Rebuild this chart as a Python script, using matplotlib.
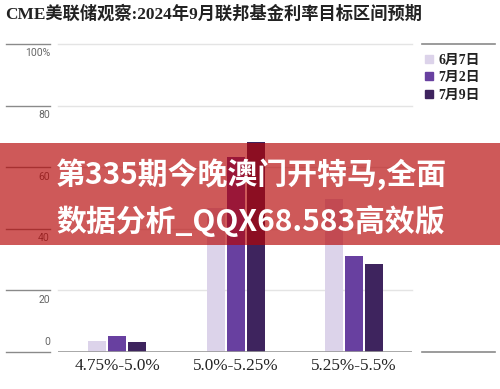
import numpy as np
import matplotlib
matplotlib.use("Agg")
import matplotlib.pyplot as plt
from matplotlib.patches import Rectangle
from matplotlib.lines import Line2D

# data
ranges = ["4.75%-5.0%", "5.0%-5.25%", "5.25%-5.5%"]
dates = ["6月7日", "7月2日", "7月9日"]
jun7 = [3.5, 46.8, 49.7]
jul2 = [5.3, 63.4, 31.3]
jul9 = [3.2, 68.2, 28.6]
yticks = [0, 20, 40, 60, 80, 100]
ylabels = ["0", "20", "40", "60", "80", "100%"]
colors = ["#dcd3ea", "#6840a0", "#3e245e"]

serif_cjk = ["Liberation Serif", "Noto Sans CJK SC"]
W, H = 500, 389

fig = plt.figure(figsize=(5, 3.89), dpi=100)

def fx(px):
    return px / W

def fy(py):
    return 1 - py / H

bottom = fy(352)
height = fy(44) - bottom

# main plot
ax = fig.add_axes([fx(58), bottom, fx(412) - fx(58), height])
x = np.arange(len(ranges))
step, width = 0.169, 0.152
for i, (vals, c) in enumerate(zip([jun7, jul2, jul9], colors)):
    ax.bar(x + (i - 1) * step, vals, width, color=c, zorder=3)
for t in yticks[1:]:
    ax.axhline(t, color="#e4e4e4", lw=1, zorder=1, clip_on=False)
ax.axhline(0, color="#9a9a9a", lw=1.2, zorder=4)
ax.set_xlim(-0.5, 2.49)
ax.set_ylim(0, 100)
ax.set_yticks([])
ax.set_xticks(x)
ax.set_xticklabels(ranges, fontfamily="Liberation Serif", fontsize=12.3, color="#222222")
ax.tick_params(axis="x", length=0, pad=4)
for s in ax.spines.values():
    s.set_visible(False)

# left ruler with tick labels
rul = fig.add_axes([fx(6), bottom, fx(50) - fx(6), height])
rul.set_xlim(0, 1)
rul.set_ylim(0, 100)
for t, lab in zip(yticks, ylabels):
    rul.axhline(t, color="#8a8a8a", lw=1, clip_on=False)
    if t == 0:
        rul.text(1, t + 1.5, lab, ha="right", va="bottom", fontsize=7.5,
                 family="Roboto", color="#666666")
    else:
        rul.text(1, t - 1.4, lab, ha="right", va="top", fontsize=7.5,
                 family="Roboto", color="#666666")
rul.axis("off")

# right legend panel
leg_ax = fig.add_axes([fx(422), bottom, fx(495) - fx(422), height])
leg_ax.set_xlim(0, 1)
leg_ax.set_ylim(0, 100)
leg_ax.axhline(100, color="#8a8a8a", lw=1.2, clip_on=False)
leg_ax.axhline(0, color="#8a8a8a", lw=1.2, clip_on=False)
leg_ax.axis("off")
handles = [Line2D([], [], marker="s", ls="", markersize=5.5, color=c) for c in colors]
leg = leg_ax.legend(handles, dates, loc="upper left", bbox_to_anchor=(-0.04, 0.985),
                    frameon=False, handlelength=0.6, handletextpad=0.4,
                    labelspacing=0.3, borderaxespad=0,
                    prop={"family": serif_cjk, "weight": "bold", "size": 10})
for t in leg.get_texts():
    t.set_color("#222222")

# title
fig.text(fx(5), fy(14), "CME美联储观察:2024年9月联邦基金利率目标区间预期",
         family=serif_cjk, weight="bold", fontsize=12.4, color="#222222",
         ha="left", va="center")

# red overlay banner
fig.add_artist(Rectangle((0, fy(245)), 1, fy(143) - fy(245),
                         transform=fig.transFigure, color=(0.71, 0.01, 0.01),
                         alpha=0.66, lw=0, zorder=10))
fig.text(fx(56), fy(175), "第335期今晚澳门开特马,全面", family="Noto Sans CJK SC",
         weight="heavy", fontsize=21.5, color="white", ha="left", va="center", zorder=11)
fig.text(fx(56), fy(221), "数据分析_QQX68.583高效版", family="Noto Sans CJK SC",
         weight="heavy", fontsize=21.5, color="white", ha="left", va="center", zorder=11)

fig.savefig("out.png", dpi=100)
